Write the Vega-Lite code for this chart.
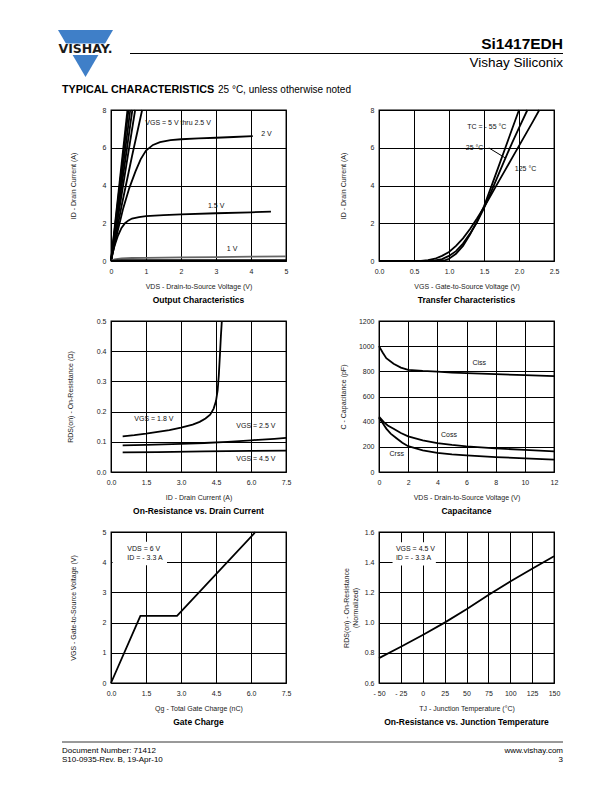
{
  "$schema": "https://vega.github.io/schema/vega-lite/v6.json",
  "padding": 0,
  "autosize": {"type": "pad"},
  "background": "white",
  "columns": 2,
  "spacing": {"row": 60, "column": 93},
  "bounds": "flush",
  "align": "each",
  "concat": [
    {
      "width": 175, "height": 20, "view": {"stroke": null},
      "encoding": {
        "x": {"field": "x", "type": "quantitative", "scale": {"domain": [111, 286], "nice": false, "zero": false}, "axis": null},
        "y": {"field": "y", "type": "quantitative", "scale": {"domain": [30, 50], "nice": false, "zero": false, "reverse": true}, "axis": null}
      },
      "layer": [
        {"data": {"values": [{"x": 0, "y": 0, "x2": 612, "y2": 792}]}, "mark": {"type": "rule", "opacity": 0, "strokeWidth": 0}, "encoding": {"x2": {"field": "x2"}, "y2": {"field": "y2"}}},
        {"data": {"values": [{"x": 85.5, "y": 53.5}]}, "mark": {"type": "point", "shape": "M-1,-0.855L1,-0.855L0,0.855Z", "size": 3025, "filled": true, "fill": "#3f7fc8", "strokeWidth": 0, "opacity": 1}},
        {"data": {"values": [{"x": 50, "x2": 122, "y": 43.5, "y2": 55}]}, "mark": {"type": "rect", "fill": "white"}, "encoding": {"x2": {"field": "x2"}, "y2": {"field": "y2"}}},
        {"data": {"values": [{"x": 85.5, "y": 53.3, "t": "VISHAY."}]}, "mark": {"type": "text", "font": "DejaVu Sans", "fontWeight": "bold", "fontSize": 12.5, "align": "center", "baseline": "alphabetic", "color": "#1a1a1a"}, "encoding": {"text": {"field": "t"}}},
        {"data": {"values": [{"x": 130, "x2": 563, "y": 53.5}]}, "mark": {"type": "rule", "strokeWidth": 1, "color": "#000"}, "encoding": {"x2": {"field": "x2"}}},
        {"data": {"values": [{"x": 62, "y": 92.8, "t": "TYPICAL CHARACTERISTICS"}]}, "mark": {"type": "text", "fontWeight": "bold", "fontSize": 10.8, "align": "left", "baseline": "alphabetic", "color": "#000"}, "encoding": {"text": {"field": "t"}}},
        {"data": {"values": [{"x": 218, "y": 92.8, "t": "25 °C, unless otherwise noted"}]}, "mark": {"type": "text", "fontSize": 10, "align": "left", "baseline": "alphabetic", "color": "#000"}, "encoding": {"text": {"field": "t"}}}
      ]
    },
    {
      "width": 175, "height": 20, "view": {"stroke": null},
      "encoding": {
        "x": {"field": "x", "type": "quantitative", "scale": {"domain": [379, 554], "nice": false, "zero": false}, "axis": null},
        "y": {"field": "y", "type": "quantitative", "scale": {"domain": [30, 50], "nice": false, "zero": false, "reverse": true}, "axis": null}
      },
      "layer": [
        {"data": {"values": [{"x": 563, "y": 48.5, "t": "Si1417EDH"}]}, "mark": {"type": "text", "fontWeight": "bold", "fontSize": 15.5, "align": "right", "baseline": "alphabetic", "color": "#000"}, "encoding": {"text": {"field": "t"}}},
        {"data": {"values": [{"x": 563, "y": 66.5, "t": "Vishay Siliconix"}]}, "mark": {"type": "text", "fontSize": 13.5, "align": "right", "baseline": "alphabetic", "color": "#000"}, "encoding": {"text": {"field": "t"}}}
      ]
    },
    {
      "width": 175, "height": 151, "title": "Output Characteristics",
      "encoding": {
        "x": {"field": "x", "type": "quantitative", "scale": {"domain": [0, 5], "nice": false, "zero": false}, "axis": {"values": [0, 1, 2, 3, 4, 5], "title": "VDS - Drain-to-Source Voltage (V)"}},
        "y": {"field": "y", "type": "quantitative", "scale": {"domain": [0, 8], "nice": false, "zero": false}, "axis": {"values": [0, 2, 4, 6, 8], "title": "ID - Drain Current (A)", "titleX": -35}}
      },
      "layer": [
        {
          "data": {"values": [
            {"s": "5V", "x": 0, "y": 0}, {"s": "5V", "x": 0.47, "y": 8},
            {"s": "4.5V", "x": 0, "y": 0}, {"s": "4.5V", "x": 0.5, "y": 8},
            {"s": "4V", "x": 0, "y": 0}, {"s": "4V", "x": 0.55, "y": 8},
            {"s": "3.5V", "x": 0, "y": 0}, {"s": "3.5V", "x": 0.61, "y": 8},
            {"s": "3V", "x": 0, "y": 0}, {"s": "3V", "x": 0.69, "y": 8},
            {"s": "2.5V", "x": 0, "y": 0}, {"s": "2.5V", "x": 0.3, "y": 2.9}, {"s": "2.5V", "x": 0.6, "y": 5.55}, {"s": "2.5V", "x": 0.89, "y": 8},
            {"s": "2V", "x": 0, "y": 0}, {"s": "2V", "x": 0.1, "y": 0.85}, {"s": "2V", "x": 0.2, "y": 1.65}, {"s": "2V", "x": 0.35, "y": 2.8}, {"s": "2V", "x": 0.52, "y": 3.85}, {"s": "2V", "x": 0.7, "y": 4.75}, {"s": "2V", "x": 0.85, "y": 5.4}, {"s": "2V", "x": 1.0, "y": 5.85}, {"s": "2V", "x": 1.2, "y": 6.15}, {"s": "2V", "x": 1.4, "y": 6.3}, {"s": "2V", "x": 1.7, "y": 6.4}, {"s": "2V", "x": 2.0, "y": 6.45}, {"s": "2V", "x": 2.5, "y": 6.5}, {"s": "2V", "x": 3.0, "y": 6.53}, {"s": "2V", "x": 3.5, "y": 6.57}, {"s": "2V", "x": 4.05, "y": 6.62},
            {"s": "1.5V", "x": 0, "y": 0}, {"s": "1.5V", "x": 0.05, "y": 0.45}, {"s": "1.5V", "x": 0.1, "y": 0.8}, {"s": "1.5V", "x": 0.2, "y": 1.35}, {"s": "1.5V", "x": 0.3, "y": 1.75}, {"s": "1.5V", "x": 0.4, "y": 2.0}, {"s": "1.5V", "x": 0.5, "y": 2.15}, {"s": "1.5V", "x": 0.6, "y": 2.25}, {"s": "1.5V", "x": 0.8, "y": 2.33}, {"s": "1.5V", "x": 1.0, "y": 2.38}, {"s": "1.5V", "x": 1.5, "y": 2.43}, {"s": "1.5V", "x": 2.0, "y": 2.47}, {"s": "1.5V", "x": 3.0, "y": 2.53}, {"s": "1.5V", "x": 4.0, "y": 2.58}, {"s": "1.5V", "x": 4.57, "y": 2.62},
            {"s": "1V", "x": 0, "y": 0}, {"s": "1V", "x": 0.1, "y": 0.08}, {"s": "1V", "x": 0.3, "y": 0.14}, {"s": "1V", "x": 0.6, "y": 0.16}, {"s": "1V", "x": 1, "y": 0.17}, {"s": "1V", "x": 2, "y": 0.19}, {"s": "1V", "x": 3, "y": 0.21}, {"s": "1V", "x": 4, "y": 0.23}, {"s": "1V", "x": 5, "y": 0.25},
            {"s": "0V", "x": 0, "y": 0}, {"s": "0V", "x": 0.3, "y": 0.04}, {"s": "0V", "x": 5, "y": 0.05}
          ]},
          "mark": {"type": "line"},
          "encoding": {"color": {"field": "s", "type": "nominal", "scale": {"domain": ["5V", "4.5V", "4V", "3.5V", "3V", "2.5V", "2V", "1.5V", "1V", "0V"], "range": ["#000", "#000", "#000", "#000", "#000", "#000", "#000", "#000", "#666", "#000"]}, "legend": null}}
        },
        {
          "data": {"values": [
            {"x": 0.98, "y": 7.32, "t": "VGS = 5 V thru 2.5 V"},
            {"x": 4.29, "y": 6.74, "t": "2 V"},
            {"x": 2.77, "y": 2.93, "t": "1.5 V"},
            {"x": 3.31, "y": 0.65, "t": "1 V"}
          ]},
          "mark": {"type": "text"},
          "encoding": {"text": {"field": "t"}}
        }
      ]
    },
    {
      "width": 175, "height": 151, "title": "Transfer Characteristics",
      "encoding": {
        "x": {"field": "x", "type": "quantitative", "scale": {"domain": [0, 2.5], "nice": false, "zero": false}, "axis": {"values": [0, 0.5, 1, 1.5, 2, 2.5], "format": ".1f", "title": "VGS - Gate-to-Source Voltage (V)"}},
        "y": {"field": "y", "type": "quantitative", "scale": {"domain": [0, 8], "nice": false, "zero": false}, "axis": {"values": [0, 2, 4, 6, 8], "title": "ID - Drain Current (A)", "titleX": -33}}
      },
      "layer": [
        {
          "data": {"values": [
            {"s": "-55", "x": 0, "y": 0}, {"s": "-55", "x": 0.85, "y": 0}, {"s": "-55", "x": 0.95, "y": 0.05}, {"s": "-55", "x": 1.0, "y": 0.12}, {"s": "-55", "x": 1.1, "y": 0.38}, {"s": "-55", "x": 1.2, "y": 0.8}, {"s": "-55", "x": 1.3, "y": 1.4}, {"s": "-55", "x": 1.4, "y": 2.1}, {"s": "-55", "x": 1.5, "y": 2.9}, {"s": "-55", "x": 1.6, "y": 3.9}, {"s": "-55", "x": 1.7, "y": 4.92}, {"s": "-55", "x": 1.8, "y": 5.95}, {"s": "-55", "x": 1.9, "y": 6.98}, {"s": "-55", "x": 2.0, "y": 8.0},
            {"s": "25", "x": 0, "y": 0}, {"s": "25", "x": 0.72, "y": 0}, {"s": "25", "x": 0.8, "y": 0.03}, {"s": "25", "x": 0.9, "y": 0.1}, {"s": "25", "x": 1.0, "y": 0.27}, {"s": "25", "x": 1.1, "y": 0.52}, {"s": "25", "x": 1.2, "y": 0.92}, {"s": "25", "x": 1.3, "y": 1.45}, {"s": "25", "x": 1.4, "y": 2.05}, {"s": "25", "x": 1.5, "y": 2.8}, {"s": "25", "x": 1.6, "y": 3.65}, {"s": "25", "x": 1.7, "y": 4.52}, {"s": "25", "x": 1.8, "y": 5.4}, {"s": "25", "x": 1.9, "y": 6.25}, {"s": "25", "x": 2.0, "y": 7.05}, {"s": "25", "x": 2.12, "y": 8.0},
            {"s": "125", "x": 0, "y": 0}, {"s": "125", "x": 0.6, "y": 0}, {"s": "125", "x": 0.7, "y": 0.04}, {"s": "125", "x": 0.8, "y": 0.12}, {"s": "125", "x": 0.9, "y": 0.27}, {"s": "125", "x": 1.0, "y": 0.48}, {"s": "125", "x": 1.1, "y": 0.8}, {"s": "125", "x": 1.2, "y": 1.2}, {"s": "125", "x": 1.3, "y": 1.7}, {"s": "125", "x": 1.4, "y": 2.25}, {"s": "125", "x": 1.5, "y": 2.85}, {"s": "125", "x": 1.6, "y": 3.5}, {"s": "125", "x": 1.7, "y": 4.15}, {"s": "125", "x": 1.8, "y": 4.8}, {"s": "125", "x": 1.9, "y": 5.45}, {"s": "125", "x": 2.0, "y": 6.1}, {"s": "125", "x": 2.1, "y": 6.75}, {"s": "125", "x": 2.2, "y": 7.4}, {"s": "125", "x": 2.29, "y": 8.0}
          ]},
          "mark": {"type": "line"},
          "encoding": {"detail": {"field": "s", "type": "nominal"}}
        },
        {
          "data": {"values": [{"x": 1.57, "y": 5.99}, {"x": 1.8, "y": 5.47}]},
          "mark": {"type": "line", "strokeWidth": 1},
          "encoding": {}
        },
        {
          "data": {"values": [
            {"x": 1.26, "y": 7.1, "t": "TC = - 55 °C"},
            {"x": 1.24, "y": 5.99, "t": "25 °C"},
            {"x": 1.94, "y": 4.88, "t": "125 °C"}
          ]},
          "mark": {"type": "text"},
          "encoding": {"text": {"field": "t"}}
        }
      ]
    },
    {
      "width": 175, "height": 151, "title": "On-Resistance vs. Drain Current",
      "encoding": {
        "x": {"field": "x", "type": "quantitative", "scale": {"domain": [0, 7.5], "nice": false, "zero": false}, "axis": {"values": [0, 1.5, 3, 4.5, 6, 7.5], "format": ".1f", "title": "ID - Drain Current (A)"}},
        "y": {"field": "y", "type": "quantitative", "scale": {"domain": [0, 0.5], "nice": false, "zero": false}, "axis": {"values": [0, 0.1, 0.2, 0.3, 0.4, 0.5], "format": ".1f", "title": "RDS(on) - On-Resistance (Ω)", "titleX": -38}}
      },
      "layer": [
        {
          "data": {"values": [
            {"s": "1.8", "x": 0.5, "y": 0.118}, {"s": "1.8", "x": 1.0, "y": 0.122}, {"s": "1.8", "x": 1.5, "y": 0.127}, {"s": "1.8", "x": 2.0, "y": 0.133}, {"s": "1.8", "x": 2.5, "y": 0.139}, {"s": "1.8", "x": 3.0, "y": 0.147}, {"s": "1.8", "x": 3.5, "y": 0.157}, {"s": "1.8", "x": 3.8, "y": 0.166}, {"s": "1.8", "x": 4.05, "y": 0.177}, {"s": "1.8", "x": 4.25, "y": 0.19}, {"s": "1.8", "x": 4.4, "y": 0.21}, {"s": "1.8", "x": 4.5, "y": 0.235}, {"s": "1.8", "x": 4.57, "y": 0.27}, {"s": "1.8", "x": 4.62, "y": 0.32}, {"s": "1.8", "x": 4.67, "y": 0.39}, {"s": "1.8", "x": 4.71, "y": 0.45}, {"s": "1.8", "x": 4.75, "y": 0.5},
            {"s": "2.5", "x": 0.5, "y": 0.088}, {"s": "2.5", "x": 1.5, "y": 0.09}, {"s": "2.5", "x": 3, "y": 0.093}, {"s": "2.5", "x": 4, "y": 0.096}, {"s": "2.5", "x": 5, "y": 0.1}, {"s": "2.5", "x": 6, "y": 0.105}, {"s": "2.5", "x": 7, "y": 0.11}, {"s": "2.5", "x": 7.5, "y": 0.113},
            {"s": "4.5", "x": 0.5, "y": 0.065}, {"s": "4.5", "x": 2, "y": 0.066}, {"s": "4.5", "x": 4, "y": 0.068}, {"s": "4.5", "x": 6, "y": 0.07}, {"s": "4.5", "x": 7.5, "y": 0.071}
          ]},
          "mark": {"type": "line"},
          "encoding": {"color": {"field": "s", "type": "nominal", "scale": {"domain": ["1.8", "2.5", "4.5"], "range": ["#000", "#000", "#444"]}, "legend": null}}
        },
        {
          "data": {"values": [
            {"x": 1.0, "y": 0.176, "t": "VGS = 1.8 V"},
            {"x": 5.37, "y": 0.153, "t": "VGS = 2.5 V"},
            {"x": 5.37, "y": 0.043, "t": "VGS = 4.5 V"}
          ]},
          "mark": {"type": "text"},
          "encoding": {"text": {"field": "t"}}
        }
      ]
    },
    {
      "width": 175, "height": 151, "title": "Capacitance",
      "encoding": {
        "x": {"field": "x", "type": "quantitative", "scale": {"domain": [0, 12], "nice": false, "zero": false}, "axis": {"values": [0, 2, 4, 6, 8, 10, 12], "title": "VDS - Drain-to-Source Voltage (V)"}},
        "y": {"field": "y", "type": "quantitative", "scale": {"domain": [0, 1200], "nice": false, "zero": false}, "axis": {"values": [0, 200, 400, 600, 800, 1000, 1200], "format": "d", "title": "C - Capacitance (pF)", "titleX": -33}}
      },
      "layer": [
        {
          "data": {"values": [
            {"s": "Ciss", "x": 0, "y": 1000}, {"s": "Ciss", "x": 0.25, "y": 950}, {"s": "Ciss", "x": 0.5, "y": 905}, {"s": "Ciss", "x": 1, "y": 860}, {"s": "Ciss", "x": 1.5, "y": 830}, {"s": "Ciss", "x": 2, "y": 812}, {"s": "Ciss", "x": 3, "y": 803}, {"s": "Ciss", "x": 4, "y": 797}, {"s": "Ciss", "x": 5, "y": 790}, {"s": "Ciss", "x": 6, "y": 785}, {"s": "Ciss", "x": 8, "y": 778}, {"s": "Ciss", "x": 10, "y": 770}, {"s": "Ciss", "x": 12, "y": 762},
            {"s": "Coss", "x": 0, "y": 440}, {"s": "Coss", "x": 0.3, "y": 400}, {"s": "Coss", "x": 0.6, "y": 370}, {"s": "Coss", "x": 1, "y": 343}, {"s": "Coss", "x": 1.5, "y": 310}, {"s": "Coss", "x": 2, "y": 283}, {"s": "Coss", "x": 3, "y": 252}, {"s": "Coss", "x": 4, "y": 230}, {"s": "Coss", "x": 5, "y": 215}, {"s": "Coss", "x": 6, "y": 203}, {"s": "Coss", "x": 8, "y": 188}, {"s": "Coss", "x": 10, "y": 176}, {"s": "Coss", "x": 12, "y": 164},
            {"s": "Crss", "x": 0, "y": 430}, {"s": "Crss", "x": 0.25, "y": 390}, {"s": "Crss", "x": 0.5, "y": 345}, {"s": "Crss", "x": 0.8, "y": 305}, {"s": "Crss", "x": 1.2, "y": 268}, {"s": "Crss", "x": 1.6, "y": 232}, {"s": "Crss", "x": 2, "y": 205}, {"s": "Crss", "x": 3, "y": 172}, {"s": "Crss", "x": 4, "y": 152}, {"s": "Crss", "x": 5, "y": 140}, {"s": "Crss", "x": 6, "y": 132}, {"s": "Crss", "x": 8, "y": 119}, {"s": "Crss", "x": 10, "y": 108}, {"s": "Crss", "x": 12, "y": 98}
          ]},
          "mark": {"type": "line"},
          "encoding": {"detail": {"field": "s", "type": "nominal"}}
        },
        {
          "data": {"values": [
            {"x": 6.41, "y": 870, "t": "Ciss"},
            {"x": 4.25, "y": 291, "t": "Coss"},
            {"x": 0.72, "y": 141, "t": "Crss"}
          ]},
          "mark": {"type": "text"},
          "encoding": {"text": {"field": "t"}}
        }
      ]
    },
    {
      "width": 175, "height": 151, "title": "Gate Charge",
      "encoding": {
        "x": {"field": "x", "type": "quantitative", "scale": {"domain": [0, 7.5], "nice": false, "zero": false}, "axis": {"values": [0, 1.5, 3, 4.5, 6, 7.5], "format": ".1f", "title": "Qg - Total Gate Charge (nC)"}},
        "y": {"field": "y", "type": "quantitative", "scale": {"domain": [0, 5], "nice": false, "zero": false}, "axis": {"values": [0, 1, 2, 3, 4, 5], "title": "VGS - Gate-to-Source Voltage (V)", "titleX": -35}}
      },
      "layer": [
        {
          "data": {"values": [{"x": 0.07, "x2": 2.4, "y": 3.9, "y2": 4.68}]},
          "mark": {"type": "rect", "fill": "white"},
          "encoding": {"x2": {"field": "x2"}, "y2": {"field": "y2"}}
        },
        {
          "data": {"values": [{"x": 0, "y": 0}, {"x": 1.26, "y": 2.22}, {"x": 2.83, "y": 2.22}, {"x": 6.19, "y": 5.0}]},
          "mark": {"type": "line"},
          "encoding": {}
        },
        {
          "data": {"values": [
            {"x": 0.7, "y": 4.45, "t": "VDS = 6 V"},
            {"x": 0.7, "y": 4.14, "t": "ID = - 3.3 A"}
          ]},
          "mark": {"type": "text"},
          "encoding": {"text": {"field": "t"}}
        }
      ]
    },
    {
      "width": 175, "height": 151, "title": "On-Resistance vs. Junction Temperature",
      "encoding": {
        "x": {"field": "x", "type": "quantitative", "scale": {"domain": [-50, 150], "nice": false, "zero": false}, "axis": {"values": [-50, -25, 0, 25, 50, 75, 100, 125, 150], "labelExpr": "datum.value < 0 ? '- ' + (-datum.value) : datum.label", "title": "TJ - Junction Temperature (°C)"}},
        "y": {"field": "y", "type": "quantitative", "scale": {"domain": [0.6, 1.6], "nice": false, "zero": false}, "axis": {"values": [0.6, 0.8, 1.0, 1.2, 1.4, 1.6], "format": ".1f", "title": ["RDS(on) - On-Resistance", "(Normalized)"], "titleX": -30}}
      },
      "layer": [
        {
          "data": {"values": [{"x": -34.5, "x2": 15, "y": 1.378, "y2": 1.532}]},
          "mark": {"type": "rect", "fill": "white"},
          "encoding": {"x2": {"field": "x2"}, "y2": {"field": "y2"}}
        },
        {
          "data": {"values": [{"x": -50, "y": 0.765}, {"x": -25, "y": 0.84}, {"x": 0, "y": 0.918}, {"x": 25, "y": 1.0}, {"x": 50, "y": 1.088}, {"x": 75, "y": 1.182}, {"x": 100, "y": 1.272}, {"x": 125, "y": 1.357}, {"x": 150, "y": 1.44}]},
          "mark": {"type": "line"},
          "encoding": {}
        },
        {
          "data": {"values": [
            {"x": -30.7, "y": 1.487, "t": "VGS = 4.5 V"},
            {"x": -30.7, "y": 1.426, "t": "ID = - 3.3 A"}
          ]},
          "mark": {"type": "text"},
          "encoding": {"text": {"field": "t"}}
        }
      ]
    },
    {
      "width": 175, "height": 20, "view": {"stroke": null},
      "encoding": {
        "x": {"field": "x", "type": "quantitative", "scale": {"domain": [111, 286], "nice": false, "zero": false}, "axis": null},
        "y": {"field": "y", "type": "quantitative", "scale": {"domain": [743, 763], "nice": false, "zero": false, "reverse": true}, "axis": null}
      },
      "layer": [
        {"data": {"values": [{"x": 62, "x2": 563, "y": 742}]}, "mark": {"type": "rule", "strokeWidth": 0.8, "color": "#000"}, "encoding": {"x2": {"field": "x2"}}},
        {"data": {"values": [{"x": 62, "y": 753, "t": "Document Number: 71412"}, {"x": 62, "y": 762, "t": "S10-0935-Rev. B, 19-Apr-10"}]}, "mark": {"type": "text", "fontSize": 8, "align": "left", "baseline": "alphabetic", "color": "#000"}, "encoding": {"text": {"field": "t"}}}
      ]
    },
    {
      "width": 175, "height": 20, "view": {"stroke": null},
      "encoding": {
        "x": {"field": "x", "type": "quantitative", "scale": {"domain": [379, 554], "nice": false, "zero": false}, "axis": null},
        "y": {"field": "y", "type": "quantitative", "scale": {"domain": [743, 763], "nice": false, "zero": false, "reverse": true}, "axis": null}
      },
      "layer": [
        {"data": {"values": [{"x": 563, "y": 753, "t": "www.vishay.com"}, {"x": 563, "y": 762, "t": "3"}]}, "mark": {"type": "text", "fontSize": 8, "align": "right", "baseline": "alphabetic", "color": "#000"}, "encoding": {"text": {"field": "t"}}}
      ]
    }
  ],
  "config": {
    "font": "Liberation Sans",
    "view": {"stroke": "#000", "strokeWidth": 1.3},
    "axis": {"grid": true, "gridColor": "#000", "gridOpacity": 1, "gridWidth": 1, "domain": false, "ticks": false, "labelFont": "Liberation Sans", "labelFontSize": 7, "labelColor": "#222", "labelFlush": false, "labelOverlap": false, "labelPadding": 5, "titleFont": "Liberation Sans", "titleFontSize": 7, "titleFontWeight": "normal", "titleColor": "#222"},
    "axisX": {"labelPadding": 6, "titlePadding": 8.5},
    "title": {"orient": "bottom", "font": "Liberation Sans", "fontSize": 8.5, "fontWeight": "bold", "color": "#000", "offset": 6},
    "text": {"font": "Liberation Sans", "fontSize": 7, "color": "#111", "align": "left", "baseline": "middle"},
    "line": {"strokeWidth": 1.8, "color": "#000"}
  }
}
